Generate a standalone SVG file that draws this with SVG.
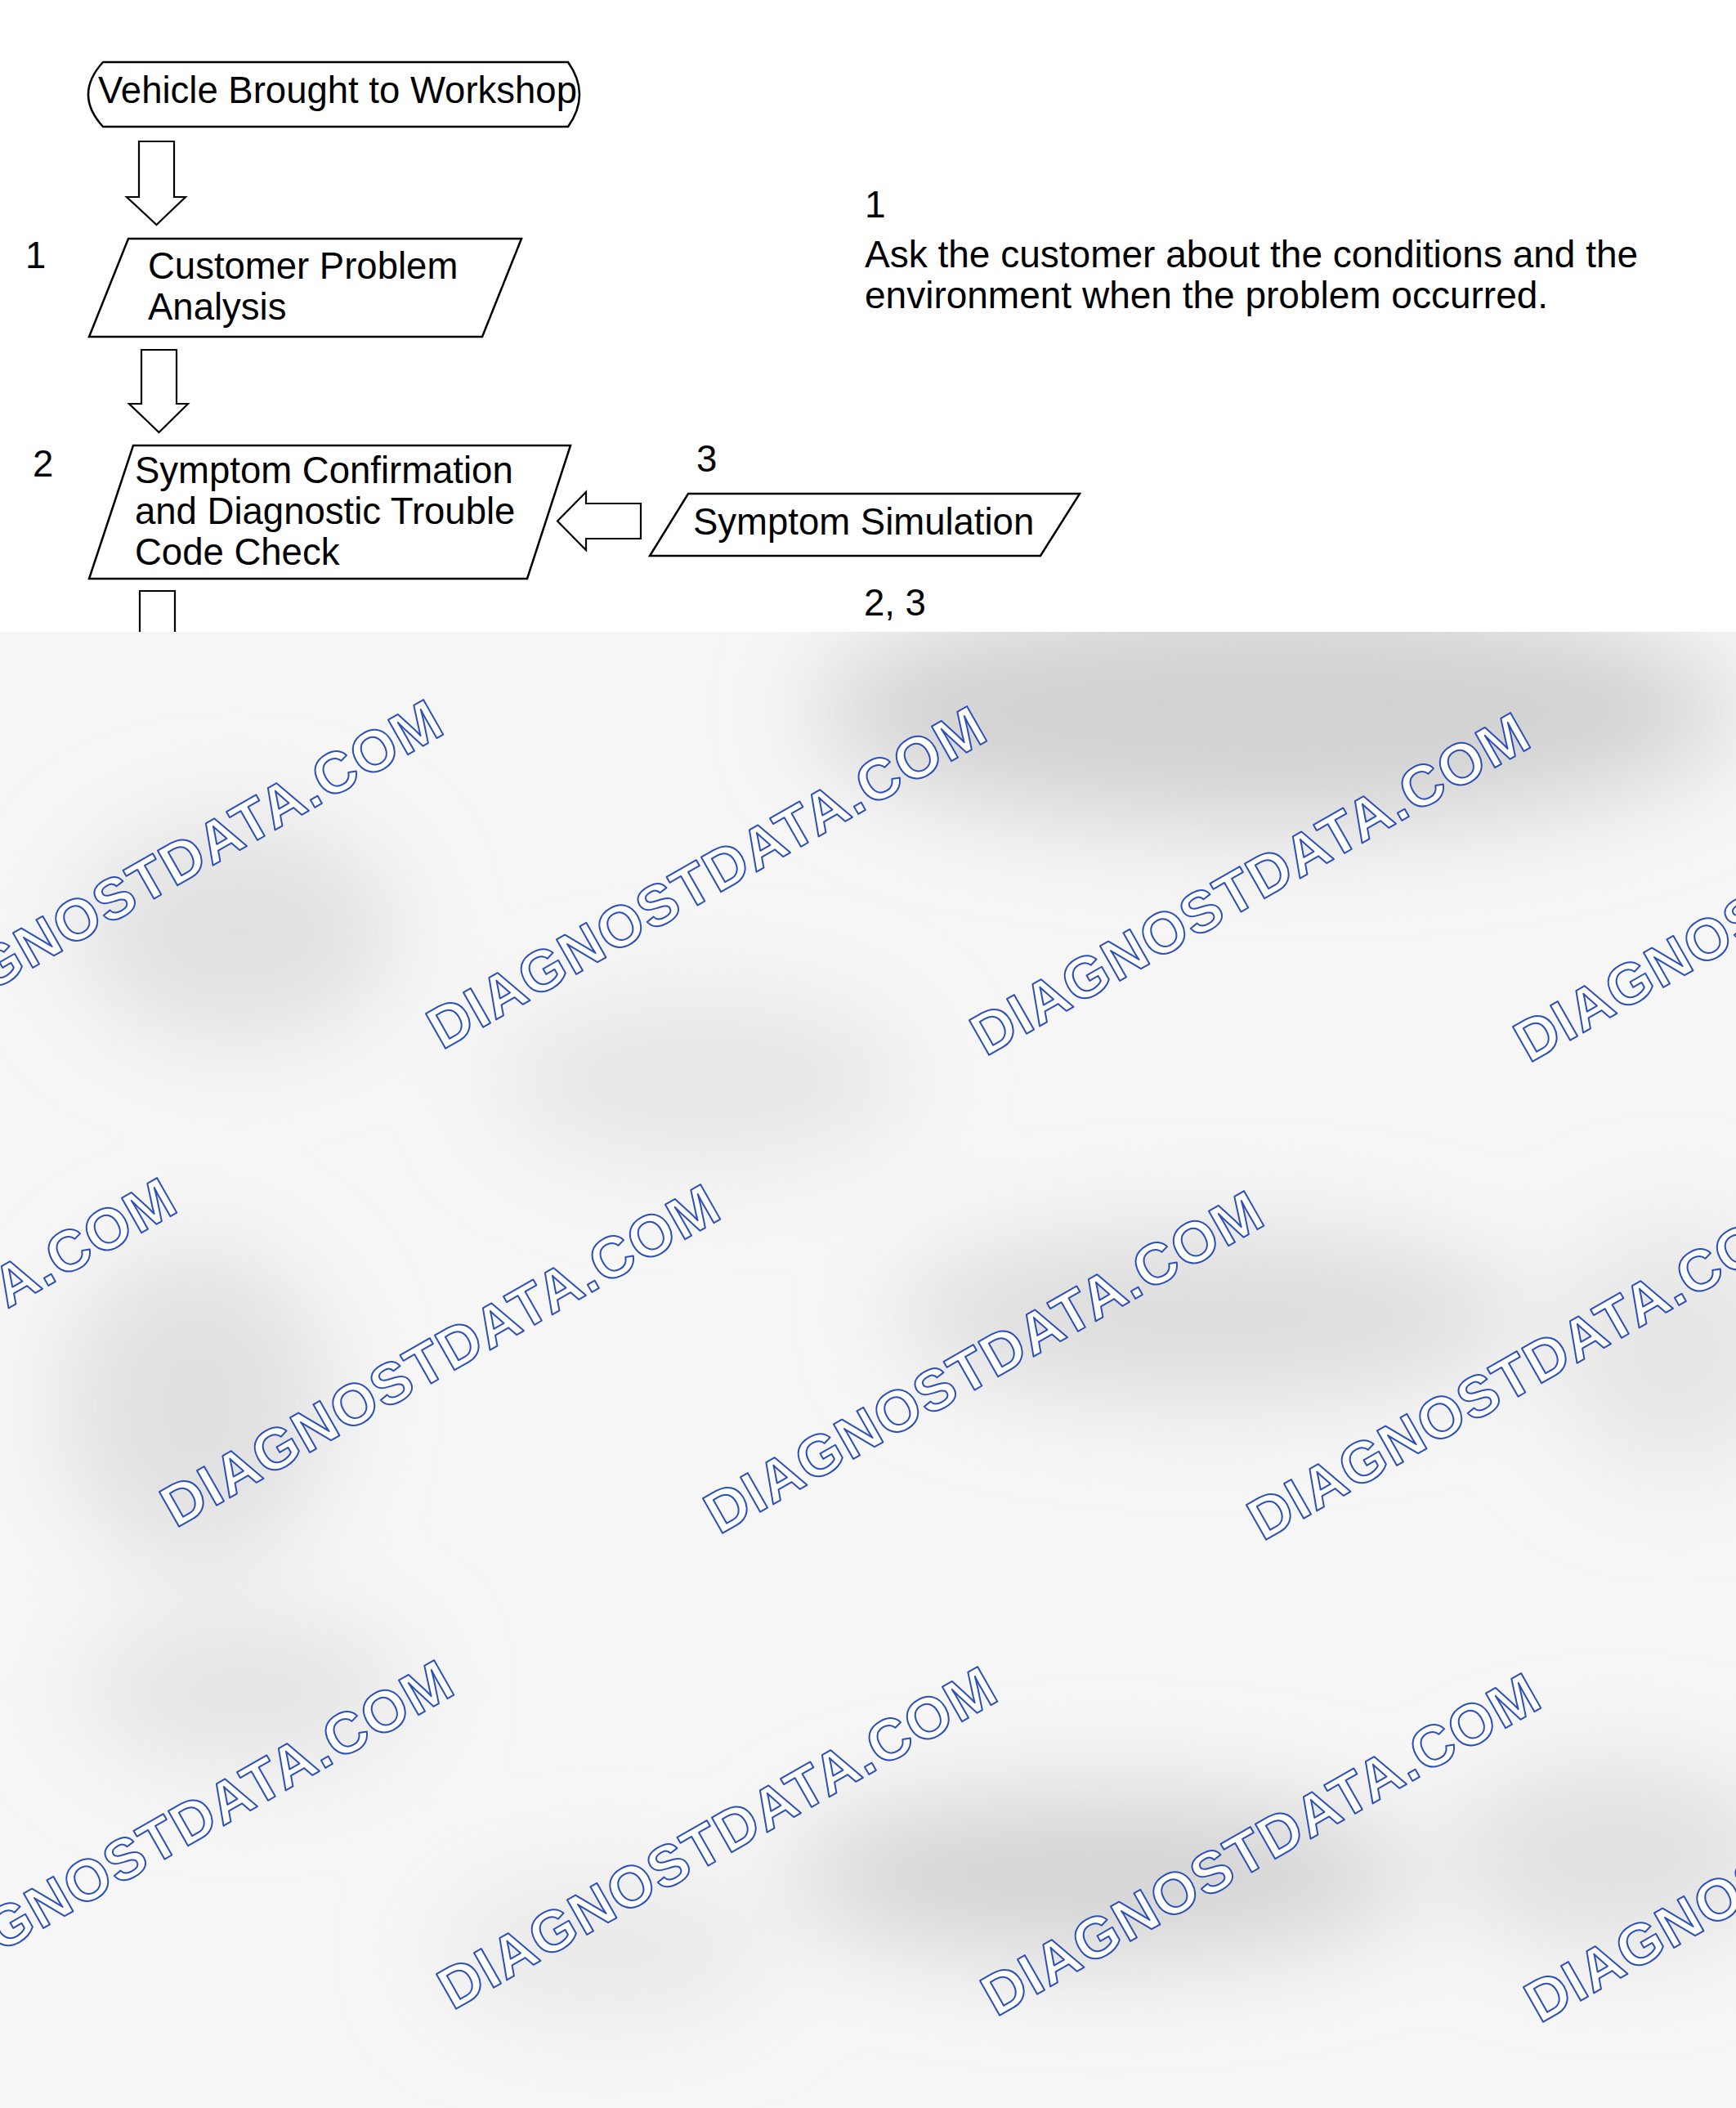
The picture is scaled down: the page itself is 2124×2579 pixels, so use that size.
<svg xmlns="http://www.w3.org/2000/svg" width="2124" height="2579" viewBox="0 0 2124 2579">
<style>
.box{fill:#fff;stroke:#000;stroke-width:2.5;stroke-linejoin:miter}
.arr{fill:#fff;stroke:#000;stroke-width:2.2;stroke-linejoin:miter}
.t{font-family:"Liberation Sans",Arial,Helvetica,sans-serif;font-size:45.5px;fill:#000}
.r{font-size:46px}
.wm{font-family:"Liberation Sans",Arial,Helvetica,sans-serif;font-weight:bold;font-size:71px;fill:#fff;stroke:#2d4fb8;stroke-width:2;stroke-linejoin:round}
</style>
<defs>
<clipPath id="ov"><rect x="0" y="773" width="2124" height="1806"/></clipPath>
<filter id="blur" x="-60%" y="-60%" width="220%" height="220%"><feGaussianBlur stdDeviation="60"/></filter>
</defs>
<rect x="0" y="0" width="2124" height="2579" fill="#fff"/>

<g id="connectors">
<polygon class="arr" points="170,173 213,173 213,241 227,241 191.5,275 155,241 170,241"/>
<polygon class="arr" points="173,428 216,428 216,494 230,494 194.5,529 158,494 173,494"/>
<polygon class="arr" points="784,616 784,659 717,659 717,673 682,637.5 717,602 717,616"/>
<path class="arr" d="M171,790 V723 H214 V790"/>
</g>

<g id="node-vehicle">
<path class="box" d="M126,76 H695 Q723,115.5 695,155 H126 Q90,115.5 126,76 Z"/>
<text class="t" x="120" y="126">Vehicle Brought to Workshop</text>
</g>

<g id="node-customer">
<text class="t" x="31" y="328">1</text>
<polygon class="box" points="157,292 638,292 590,412 109,412"/>
<text class="t" x="181" y="341">Customer Problem</text>
<text class="t" x="181" y="391">Analysis</text>
</g>

<g id="node-symptom-confirmation">
<text class="t" x="40" y="583">2</text>
<polygon class="box" points="163,545 698,545 645,708 109,708"/>
<text class="t" x="165" y="591">Symptom Confirmation</text>
<text class="t" x="165" y="641">and Diagnostic Trouble</text>
<text class="t" x="165" y="691">Code Check</text>
</g>

<g id="node-symptom-simulation">
<text class="t" x="852" y="577">3</text>
<polygon class="box" points="842,604 1321,604 1273,680 795,680"/>
<text class="t" x="848" y="654">Symptom Simulation</text>
</g>

<g id="note-1">
<text class="t r" x="1058" y="266">1</text>
<text class="t r" x="1058" y="327">Ask the customer about the conditions and the</text>
<text class="t r" x="1058" y="377">environment when the problem occurred.</text>
</g>

<g id="note-23">
<text class="t" x="1057" y="753">2, 3</text>
</g>

<g id="overlay" clip-path="url(#ov)">
<rect x="0" y="773" width="2124" height="1806" fill="#f6f6f7"/>
<g filter="url(#blur)">
<ellipse cx="1560" cy="870" rx="560" ry="140" fill="#d2d2d2"/>
<ellipse cx="290" cy="1140" rx="190" ry="130" fill="#e0e0e0"/>
<ellipse cx="860" cy="1320" rx="250" ry="100" fill="#e6e6e6"/>
<ellipse cx="1480" cy="1610" rx="380" ry="100" fill="#dcdcdc"/>
<ellipse cx="240" cy="1720" rx="160" ry="190" fill="#e0e0e0"/>
<ellipse cx="300" cy="2070" rx="200" ry="90" fill="#e4e4e4"/>
<ellipse cx="1350" cy="2295" rx="380" ry="100" fill="#d4d4d4"/>
<ellipse cx="1975" cy="2270" rx="200" ry="110" fill="#e0e0e0"/>
<ellipse cx="740" cy="2385" rx="200" ry="80" fill="#e8e8e8"/>
<ellipse cx="2050" cy="1650" rx="150" ry="150" fill="#e6e6e6"/>
</g>
<g id="watermarks">
<text class="wm" transform="translate(-124,1277) rotate(-29.6)" textLength="771" lengthAdjust="spacing">DIAGNOSTDATA.COM</text>
<text class="wm" transform="translate(541,1285) rotate(-29.6)" textLength="771" lengthAdjust="spacing">DIAGNOSTDATA.COM</text>
<text class="wm" transform="translate(1206,1293) rotate(-29.6)" textLength="771" lengthAdjust="spacing">DIAGNOSTDATA.COM</text>
<text class="wm" transform="translate(1871,1301) rotate(-29.6)" textLength="771" lengthAdjust="spacing">DIAGNOSTDATA.COM</text>
<text class="wm" transform="translate(-450,1862) rotate(-29.6)" textLength="771" lengthAdjust="spacing">DIAGNOSTDATA.COM</text>
<text class="wm" transform="translate(215,1870) rotate(-29.6)" textLength="771" lengthAdjust="spacing">DIAGNOSTDATA.COM</text>
<text class="wm" transform="translate(880,1878) rotate(-29.6)" textLength="771" lengthAdjust="spacing">DIAGNOSTDATA.COM</text>
<text class="wm" transform="translate(1545,1886) rotate(-29.6)" textLength="771" lengthAdjust="spacing">DIAGNOSTDATA.COM</text>
<text class="wm" transform="translate(-111,2452) rotate(-29.6)" textLength="771" lengthAdjust="spacing">DIAGNOSTDATA.COM</text>
<text class="wm" transform="translate(554,2460) rotate(-29.6)" textLength="771" lengthAdjust="spacing">DIAGNOSTDATA.COM</text>
<text class="wm" transform="translate(1219,2468) rotate(-29.6)" textLength="771" lengthAdjust="spacing">DIAGNOSTDATA.COM</text>
<text class="wm" transform="translate(1884,2476) rotate(-29.6)" textLength="771" lengthAdjust="spacing">DIAGNOSTDATA.COM</text>
</g>
</g>
</svg>
